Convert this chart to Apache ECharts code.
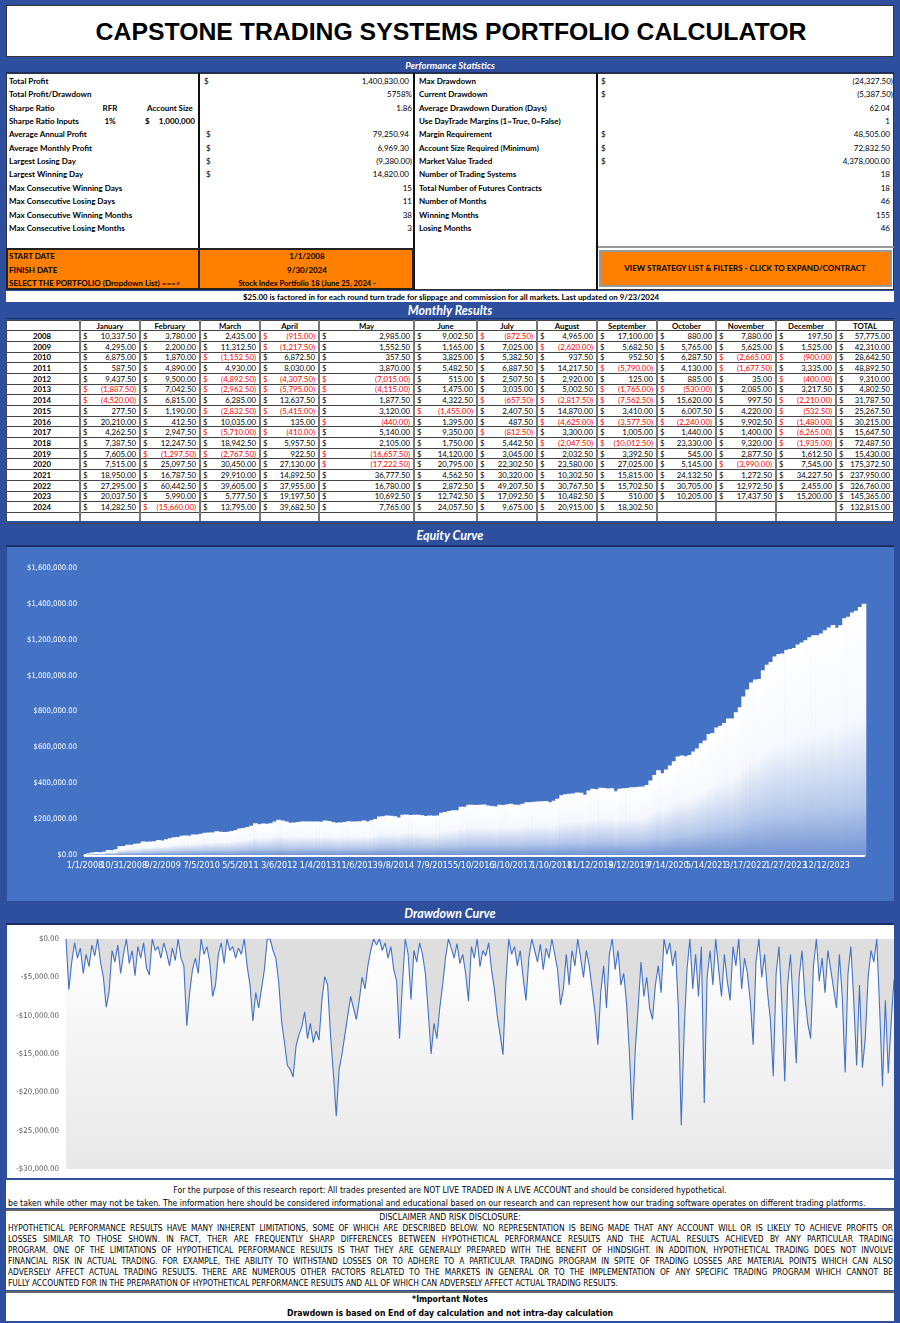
<!DOCTYPE html>
<html><head><meta charset="utf-8">
<script src="https://cdn.jsdelivr.net/npm/echarts@6/dist/echarts.min.js"></script>
<style>
html,body{margin:0;padding:0;}
body{width:900px;height:1323px;background:#2D4F9E;position:relative;overflow:hidden;font-family:Lato,'Open Sans',sans-serif;}
.t{position:absolute;white-space:nowrap;height:14px;line-height:14px;}
.b{position:absolute;box-sizing:border-box;}
</style></head><body>
<div id="eq" class="b" style="left:7px;top:547px;width:887px;height:354px;background:#4472C4;"></div>
<div id="dd" class="b" style="left:7px;top:925px;width:887px;height:253px;background:#fff;"></div>
<script>
// ---------------- DATA ----------------
const years = [2008,2009,2010,2011,2012,2013,2014,2015,2016,2017,2018,2019,2020,2021,2022,2023,2024];
const monthNames = ["January","February","March","April","May","June","July","August","September","October","November","December"];
const pnl2008 = [10337.5,3780,2435,-915,2985,9002.5,-872.5,4965,17100,880,7880,197.5];
const pnl2009 = [4295,2200,11312.5,-1217.5,1552.5,1165,7025,-2620,5682.5,5765,5625,1525];
const pnl2010 = [6875,1870,-1152.5,6872.5,357.5,3825,5382.5,937.5,952.5,6287.5,-2665,-900];
const pnl2011 = [587.5,4890,4930,8030,3870,5482.5,6887.5,14217.5,-5790,4130,-1677.5,3335];
const pnl2012 = [9437.5,9500,-4892.5,-4307.5,-7015,515,2507.5,2920,125,885,35,-400];
const pnl2013 = [-1887.5,7042.5,-2962.5,-5795,-4115,1475,3035,5002.5,-1765,-530,2085,3217.5];
const pnl2014 = [-4520,6815,6285,13637.5,1877.5,4322.5,-657.5,-2817.5,-7562.5,15620,997.5,-2210];
const pnl2015 = [277.5,1190,-2832.5,-5415,3120,-1455,2407.5,14870,3410,6007.5,4220,-532.5];
const pnl2016 = [20210,412.5,10035,135,-440,1395,487.5,-4625,-3577.5,-2240,9902.5,-1480];
const pnl2017 = [4262.5,2947.5,-5710,-410,5140,9350,-812.5,3300,1005,1440,1400,-6265];
const pnl2018 = [7387.5,12247.5,18942.5,5957.5,2105,1750,5442.5,-2047.5,-10012.5,23330,9320,-1935];
const pnl2019 = [7605,-1297.5,-2767.5,922.5,-16657.5,14120,3045,2032.5,3392.5,545,2877.5,1612.5];
const pnl2020 = [7515,25097.5,30450,27130,-17222.5,20795,22302.5,23580,27025,5145,-3990,7545];
const pnl2021 = [18950,16787.5,29910,14892.5,36777.5,4562.5,30320,10302.5,15815,24132.5,1272.5,34227.5];
const pnl2022 = [27295,60442.5,39605,37955,16780,2872.5,49207.5,30767.5,15702.5,30705,12972.5,2455];
const pnl2023 = [20037.5,5990,5777.5,19197.5,10692.5,12742.5,17092.5,10482.5,510,10205,17437.5,15200];
const pnl2024 = [14282.5,-15660,13795,39682.5,7765,24057.5,9675,20915,18302.5];
const yearTotals = [57775,42310,28642.5,48892.5,9310,4802.5,31787.5,25267.5,30215,15647.5,72487.5,15430,175372.5,237950,326760,145365,132815];
const equityTickLabels = ["1/1/2008","10/31/2008","9/2/2009","7/5/2010","5/5/2011","3/6/2012","1/4/2013","11/6/2013","9/8/2014","7/9/2015","5/10/2016","3/10/2017","1/10/2018","11/12/2018","9/12/2019","7/14/2020","5/14/2021","3/17/2022","1/27/2023","12/12/2023"];
const equityEndDate = "9/30/2024";
const equityAxisMax = 1600000;
const equityAxisStep = 200000;
const drawdownAxisMin = -30000;
const drawdownAxisStep = 5000;
const drawdownValues = [0,-6600,-3000,-500,-2500,-1200,-4500,-2000,-3600,-800,-2200,0,-3000,-5000,-8900,-6800,-1500,-3000,-800,-4500,-2000,0,-3200,-1500,-4800,-1000,-2500,-500,-3800,-4700,0,-1500,-1000,-2500,-500,-1800,-3500,-1200,-2800,0,-2500,-3500,-11300,-7000,-4000,-2500,-4500,0,-2000,-1000,-3000,-7500,-6000,-2000,-500,-3200,0,-1500,-1000,-2500,-1200,-2000,0,-3500,-6000,-10700,-7000,-9000,-6500,-4000,0,0,-1500,-2500,-5700,-10800,-13500,-16500,-17000,-18000,-14000,-12500,-11500,-9500,-13000,-11000,-13500,-12000,-13200,-8000,-4900,-6000,-12500,-17500,-23100,-17000,-15000,-12500,-10000,-7500,-9000,-10500,-8000,-5000,-6500,-3500,-1500,0,-800,0,-1500,-500,-2500,-1000,-4000,-5500,-13000,-6000,0,-2000,-7900,-1500,-3000,-500,-2000,-4500,-9500,-15000,-11000,-13000,-9000,-6000,-2500,0,-1200,-2500,-600,-3200,-2000,-4500,-8100,-1000,-2500,0,-3600,-1500,-2200,-500,-4000,-6500,-10000,-12500,-15100,-5500,0,-2000,-1000,-3500,-1500,-5000,-8000,-2500,0,-1500,-3000,-700,-4000,-1200,-2500,0,-2000,-4000,-8600,-6500,-2000,-6000,-1500,-3500,0,-2500,-5000,-1500,-3500,-6500,-9500,-13800,-7000,-3500,-9000,-2000,0,-4000,-1500,-6000,-4500,-8500,-15000,-23600,-14500,-9000,-3000,-7500,-5000,-9000,-10500,-6000,-3500,-7000,0,-2000,-500,-3500,-1500,-9000,-24300,-12000,-4000,0,-6500,-2000,-7500,-1000,-21400,-5000,-1500,-6000,0,-4000,-7500,-2000,-5500,-8000,-1000,-3500,0,-6500,-2500,-4500,-8000,-13800,-3000,0,-5000,-2000,-7000,-10500,-17900,-4500,-1000,-8500,-18600,-6000,-2000,-9000,-16200,-5000,-1500,-7500,-11000,-13000,-3500,0,-5500,-2500,-7000,-1500,-4000,-6500,-9000,-2000,-7500,-17400,-4500,-1000,-8000,-16500,-6000,-16800,-13000,-5000,-1500,-3000,0,-9000,-19200,-8000,-17500,-11000,-5300];
const statLabelsLeft = ["Total Profit","Total Profit/Drawdown","Sharpe Ratio","Sharpe Ratio Inputs","Average Annual Profit","Average Monthly Profit","Largest Losing Day","Largest Winning Day","Max Consecutive Winning Days","Max Consecutive Losing Days","Max Consecutive Winning Months","Max Consecutive Losing Months"];
const statValuesLeft = [["$","1,400,830.00"],["","5758%"],["","1.86"],["",""],["$","79,250.94"],["$","6,969.30"],["$","(9,380.00)"],["$","14,820.00"],["","15"],["","11"],["","38"],["","3"]];
const statLabelsRight = ["Max Drawdown","Current Drawdown","Average Drawdown Duration (Days)","Use DayTrade Margins (1=True, 0=False)","Margin Requirement","Account Size Required (Minimum)","Market Value Traded","Number of Trading Systems","Total Number of Futures Contracts","Number of Months","Winning Months","Losing Months"];
const statValuesRight = [["$","(24,327.50)"],["$","(5,387.50)"],["","62.04"],["","1"],["$","48,505.00"],["$","72,832.50"],["$","4,378,000.00"],["","18"],["","18"],["","46"],["","155"],["","46"]];

// ---------------- helpers ----------------
const body = document.body;
const NF="'Liberation Sans Narrow','Arial Narrow','DejaVu Sans Condensed',sans-serif";
function B(x,y,w,h,style){const d=document.createElement('div');d.className='b';d.style.cssText+=`left:${x}px;top:${y}px;width:${w}px;height:${h}px;`+(style||'');body.appendChild(d);return d;}
function T(text,o){const d=document.createElement('div');d.className='t';d.textContent=text;const s=d.style;
  s.fontSize=(o.fs||8)+'px';s.fontWeight=o.b?'700':'400';if(o.i)s.fontStyle='italic';s.color=o.c||'#000';s.top=(o.y-7)+'px';
  if(o.ff)s.fontFamily=o.ff;
  if(o.a==='r'){s.right=(900-o.x)+'px';}else if(o.a==='c'){s.left=(o.x-400)+'px';s.width='800px';s.textAlign='center';}else{s.left=o.x+'px';}
  body.appendChild(d);return d;}
function fmt(v){const s=Math.abs(v).toLocaleString('en-US',{minimumFractionDigits:2,maximumFractionDigits:2});return v<0?'('+s+')':s;}

// ---------------- title ----------------
B(6,5,888,52,'background:#fff;border:1px solid #333;');
T("CAPSTONE TRADING SYSTEMS PORTFOLIO CALCULATOR",{x:451,y:32,fs:24.8,b:1,a:'c',ff:"'Liberation Sans',Arial,sans-serif"});

// ---------------- performance statistics ----------------
B(6,59,888,14,'background:#2D4F9E;border-bottom:1px solid #1a2f66;');
T("Performance Statistics",{x:450,y:66,fs:9.5,b:1,i:1,c:'#fff',a:'c'});
B(6,73,888,175,'background:#fff;');
B(414,248,480,42,'background:#fff;');
B(6,73,888,217,'border:1px solid #333;');
B(198,73,2,217,'background:#111;');
B(413,73,2,217,'background:#111;');
B(596,73,2,217,'background:#111;');
statLabelsLeft.forEach((l,i)=>{const y=81+i*13.35;T(l,{x:9,y,b:1});
  const v=statValuesLeft[i]; if(v[0])T(v[0],{x:i===0?204:206,y});
  if(v[1])T(v[1],{x:v[1].startsWith('(')||!v[0]?412:409,y,a:'r'});});
T("RFR",{x:110,y:107.7,b:1,a:'c'});T("Account Size",{x:170,y:107.7,b:1,a:'c'});
T("1%",{x:110,y:121,b:1,a:'c'});T("$",{x:145,y:121,b:1});T("1,000,000",{x:195,y:121,b:1,a:'r'});
statLabelsRight.forEach((l,i)=>{const y=81+i*13.35;T(l,{x:419,y,b:1});
  const v=statValuesRight[i]; if(v[0])T(v[0],{x:601,y});
  T(v[1],{x:v[1].startsWith('(')?893:890,y,a:'r'});});
B(598,246,296,2,'background:#999;');
// orange block
B(6,248,408,42,'background:#FF8000;border:2px solid #222;');
B(198,248,2,42,'background:#222;');
T("START DATE",{x:9,y:256,b:1});T("FINISH DATE",{x:9,y:269.5,b:1});T("SELECT THE PORTFOLIO (Dropdown List) ===>",{x:9,y:283,b:1});
T("1/1/2008",{x:307,y:256,b:1,a:'c'});T("9/30/2024",{x:307,y:269.5,b:1,a:'c'});T("Stock Index Portfolio 18 (June 25, 2024 -",{x:307,y:283,b:1,fs:7.6,a:'c'});
B(599,250,293,37,'background:#FF8000;border:2px solid #9a9a9a;');
T("VIEW STRATEGY LIST & FILTERS - CLICK TO EXPAND/CONTRACT",{x:745,y:268,b:1,fs:8,a:'c'});
// note line
B(6,291,888,11,'background:#fff;');
T("$25.00 is factored in for each round turn trade for slippage and commission for all markets.  Last updated on 9/23/2024",{x:451,y:296.5,b:1,fs:7.9,a:'c'});

// ---------------- monthly results ----------------
B(6,302,888,17,'background:#2D4F9E;border-bottom:1px solid #1a2f66;');
T("Monthly Results",{x:450,y:311,fs:12.5,b:1,i:1,c:'#fff',a:'c'});
const colX=[7,80,140,200,260,319,414,477,537,597,657,716,776,836,894];
const tTop=320, hH=10.7, rH=10.69;
B(7,tTop,887,201,'background:#fff;');
const headers=[""].concat(monthNames,["TOTAL"]);
headers.forEach((h,c)=>{if(h)T(h,{x:(colX[c]+colX[c+1])/2,y:tTop+hH/2+0.5,b:1,fs:7.8,a:'c'});});
for(let r=0;r<=years.length+1;r++){const y=tTop+hH+r*rH; B(7,y-0.5,887,1,'background:#444;');}
B(7,tTop,887,1,'background:#444;');
colX.forEach((x,c)=>{B(x-1,tTop,c===0||c===colX.length-1?1:2,201,'background:'+(c===0||c===colX.length-1?'#444':'#777')+';');});
const pnlByYear=[pnl2008,pnl2009,pnl2010,pnl2011,pnl2012,pnl2013,pnl2014,pnl2015,pnl2016,pnl2017,pnl2018,pnl2019,pnl2020,pnl2021,pnl2022,pnl2023,pnl2024];
years.forEach((yr,r)=>{const y=tTop+hH+r*rH+rH/2;
  T(String(yr),{x:42,y,b:1,fs:7.8,a:'c'});
  const vals=pnlByYear[r].concat(new Array(12-pnlByYear[r].length).fill(null)).concat([yearTotals[r]]);
  vals.forEach((v,k)=>{if(v===null)return;const c=k+1;const col=v<0?'#FF0000':'#000';
    T("$",{x:colX[c]+3,y,fs:7.8,c:col});T(fmt(v),{x:colX[c+1]-4,y,fs:7.8,c:col,a:'r'});});
});

// ---------------- chart headers ----------------
B(6,526,888,21,'background:#2D4F9E;border-bottom:2px solid #1a2f66;');
T("Equity Curve",{x:450,y:536,fs:12.5,b:1,i:1,c:'#fff',a:'c'});
B(6,903,888,22,'background:#2D4F9E;border-bottom:2px solid #1a2f66;');
T("Drawdown Curve",{x:450,y:914,fs:12.5,b:1,i:1,c:'#fff',a:'c'});

// ---------------- disclaimer ----------------
B(6,1180,888,28,'background:#fff;');
B(6,1209,888,81,'background:#fff;border-top:2px solid #666;');
B(6,1291,888,30,'background:#fff;border-top:2px solid #666;');
T("For the purpose of this research report: All trades presented are NOT LIVE TRADED IN A LIVE ACCOUNT and should be considered hypothetical.",{x:450,y:1190,fs:8.6,a:'c',ff:NF});
T("be taken while other may not be taken. The information here should be considered informational and educational based on our research and can represent how our trading software operates on different trading platforms.",{x:8,y:1203,fs:8.6,ff:NF});
T("DISCLAIMER AND RISK DISCLOSURE:",{x:450,y:1217,fs:8.6,a:'c',ff:NF});
const disclaimerLines=["HYPOTHETICAL PERFORMANCE RESULTS HAVE MANY INHERENT LIMITATIONS, SOME OF WHICH ARE DESCRIBED BELOW.  NO REPRESENTATION IS BEING MADE THAT ANY ACCOUNT WILL OR IS LIKELY TO ACHIEVE PROFITS OR",
"LOSSES SIMILAR TO THOSE SHOWN.  IN FACT, THER ARE FREQUENTLY SHARP DIFFERENCES BETWEEN HYPOTHETICAL PERFORMANCE RESULTS AND THE ACTUAL RESULTS ACHIEVED BY ANY PARTICULAR TRADING",
"PROGRAM.  ONE OF THE LIMITATIONS OF HYPOTHETICAL PERFORMANCE RESULTS IS THAT THEY ARE GENERALLY PREPARED WITH THE BENEFIT OF HINDSIGHT.  IN ADDITION, HYPOTHETICAL TRADING DOES NOT INVOLVE",
"FINANCIAL RISK IN ACTUAL TRADING.  FOR EXAMPLE, THE ABILITY TO WITHSTAND LOSSES OR TO ADHERE TO A PARTICULAR TRADING PROGRAM IN SPITE OF TRADING LOSSES ARE MATERIAL POINTS WHICH CAN ALSO",
"ADVERSELY AFFECT ACTUAL TRADING RESULTS.  THERE ARE NUMEROUS OTHER FACTORS RELATED TO THE MARKETS IN GENERAL OR TO THE IMPLEMENTATION OF ANY SPECIFIC TRADING PROGRAM WHICH CANNOT BE",
"FULLY ACCOUNTED FOR IN THE PREPARATION OF HYPOTHETICAL PERFORMANCE RESULTS AND ALL OF WHICH CAN ADVERSELY AFFECT ACTUAL TRADING RESULTS."];
disclaimerLines.forEach((l,i)=>{const d=T(l,{x:8,y:1228+i*10.9,fs:8.3,ff:NF});
  if(i<disclaimerLines.length-1){d.style.width='885px';d.style.textAlign='justify';d.style.textAlignLast='justify';d.style.whiteSpace='normal';d.style.overflow='hidden';}});
T("*Important Notes",{x:450,y:1299,fs:8.6,b:1,a:'c',ff:NF});
T("Drawdown is based on End of day calculation and not intra-day calculation",{x:450,y:1313,fs:8.6,b:1,a:'c',ff:NF});

// ---------------- equity chart ----------------
function parseMDY(s){const p=s.split('/').map(Number);return Date.UTC(p[2],p[0]-1,p[1]);}
const eqData=[];let cum=0;
years.forEach((yr,yi)=>pnlByYear[yi].forEach((v,mi)=>{cum+=v;eqData.push([Date.UTC(yr,mi+1,0),cum]);}));
const eqChart=echarts.init(document.getElementById('eq'));
const eqOption={
  animation:false,
  grid:{left:78,top:21,width:779,height:287,containLabel:false},
  xAxis:{type:'value',min:parseMDY(equityTickLabels[0]),max:parseMDY(equityEndDate),scale:true,
    axisLine:{show:true,lineStyle:{color:'#fff',width:3}},axisTick:{show:false},splitLine:{show:false},axisLabel:{show:false}},
  yAxis:{type:'value',min:0,max:equityAxisMax,interval:equityAxisStep,splitLine:{show:false},axisLine:{show:false},axisTick:{show:false},
    axisLabel:{color:'#fff',fontSize:7.6,margin:8,fontFamily:NF,formatter:v=>'$'+v.toLocaleString('en-US',{minimumFractionDigits:2})}},
  series:[{type:'bar',data:eqData,barWidth:4.6,
    itemStyle:{color:new echarts.graphic.LinearGradient(0,0,0,1,[{offset:0,color:'#ffffff'},{offset:0.45,color:'#f6f8fd'},{offset:0.8,color:'#b4c7ea'},{offset:1,color:'#7395d3'}])}}]
};
eqChart.setOption(eqOption);
// category tick labels placed through the axis scale
const labelY = eqChart.convertToPixel({yAxisIndex:0},0) + 11;
eqChart.setOption({graphic:equityTickLabels.map(s=>({type:'text',x:eqChart.convertToPixel({xAxisIndex:0},parseMDY(s)),y:labelY,
  style:{text:s,fill:'#fff',font:'9px '+NF,align:'center',verticalAlign:'middle'},silent:true}))});

// ---------------- drawdown chart ----------------
const ddChart=echarts.init(document.getElementById('dd'));
ddChart.setOption({
  animation:false,
  grid:{left:59,top:14,width:828,height:230,show:true,borderWidth:0,
    backgroundColor:new echarts.graphic.LinearGradient(0,0,0,1,[{offset:0,color:'#ffffff'},{offset:1,color:'#e8e8e8'}])},
  xAxis:{type:'category',data:drawdownValues.map((_,i)=>i),boundaryGap:false,show:false},
  yAxis:{type:'value',min:drawdownAxisMin,max:0,interval:drawdownAxisStep,splitLine:{show:false},axisLine:{show:false},axisTick:{show:false},
    axisLabel:{color:'#595959',fontSize:7.8,margin:7,fontFamily:NF,formatter:v=>(v<0?'-':'')+'$'+Math.abs(v).toLocaleString('en-US',{minimumFractionDigits:2})}},
  series:[{type:'line',data:drawdownValues,symbol:'none',lineStyle:{color:'#4472C4',width:1.1},areaStyle:{color:'#dedede',opacity:1}}]
});
</script>
</body></html>
